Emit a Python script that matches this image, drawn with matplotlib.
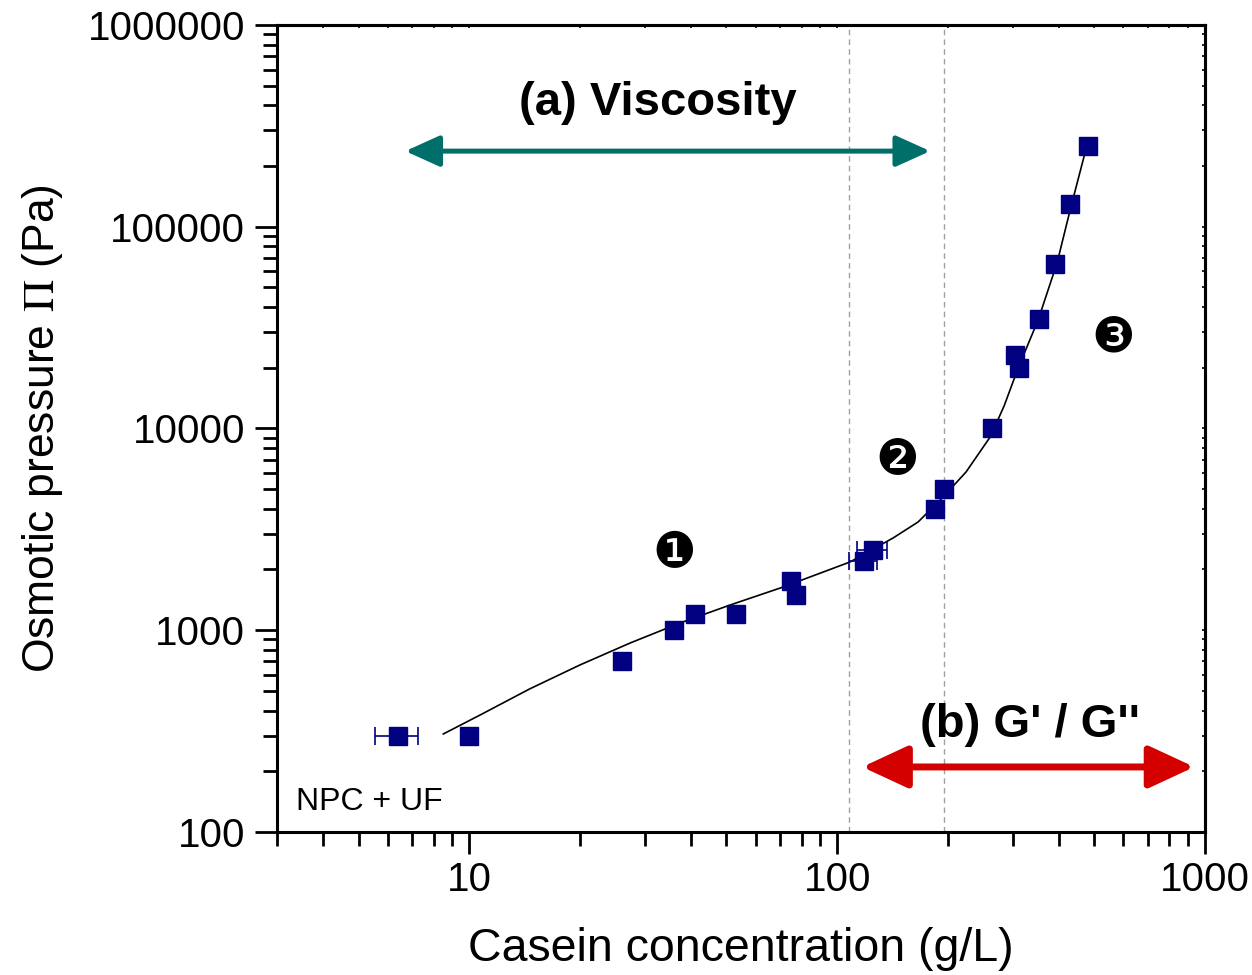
import matplotlib
matplotlib.use("Agg")
import matplotlib.pyplot as plt
from matplotlib.ticker import LogLocator, NullFormatter, FixedLocator, FixedFormatter

plt.rcParams['font.family'] = ['Liberation Sans', 'DejaVu Sans']
plt.rcParams['mathtext.fontset'] = 'stix'

# measured points (casein g/L, osmotic pressure Pa)
conc = [10, 26, 36, 41, 53, 75, 77.5, 184, 195, 264, 305, 313, 354, 391, 430, 481]
pressure = [300, 700, 1000, 1200, 1200, 1750, 1500, 4000, 5000, 10000, 23000, 20000, 35000, 65000, 130000, 250000]

# points with horizontal error bars
conc_err = [6.4, 118, 125]
pressure_err = [300, 2200, 2500]
xerr = [0.85, 10, 12]

# fitted curve
fit_x = [8.5, 10.7, 14.6, 20.0, 27.4, 37.4, 51.2, 71.3, 108.4, 141.9, 166, 194, 224, 260.6, 284.3,
         310.5, 351.8, 396, 429.8, 477.7]
fit_y = [306, 380, 512, 673, 865, 1086, 1334, 1637, 2179, 2865, 3441, 4570, 6083, 9078, 12930,
         19950, 34500, 66100, 121000, 254000]

# domain limits
limits = [108, 195]
viscosity_arrow = (6.7, 179, 237000)
modulus_arrow = (117, 935, 210)

navy = '#000080'
teal = '#006f6a'
red = '#d40000'


def main():
    fig = plt.figure(figsize=(12.52, 9.75), dpi=100)
    ax = fig.add_axes([0.2212, 0.1467, 0.7413, 0.8277])
    ax.set_xscale('log')
    ax.set_yscale('log')
    ax.set_xlim(3, 1000)
    ax.set_ylim(100, 1000000)

    for xv in limits:
        ax.axvline(xv, color='#a0a0a0', lw=1.0, ls=(0, (4, 3)), zorder=1)

    ax.plot(fit_x, fit_y, color='black', lw=1.2, zorder=2)
    ax.errorbar(conc_err, pressure_err, xerr=xerr, fmt='s', color=navy, ms=13,
                ecolor=navy, elinewidth=1.2, capsize=6.5, capthick=1.2, zorder=3)
    ax.plot(conc, pressure, 's', color=navy, ms=13, zorder=4)

    # arrows
    x0, x1, yv = viscosity_arrow
    ax.annotate('', xy=(x1, yv), xytext=(x0, yv),
                arrowprops=dict(arrowstyle='<|-|>,head_length=21,head_width=9.5',
                                mutation_scale=1, lw=3.6, color=teal, shrinkA=0, shrinkB=0))
    x0, x1, yv = modulus_arrow
    ax.annotate('', xy=(x1, yv), xytext=(x0, yv),
                arrowprops=dict(arrowstyle='<|-|>,head_length=28,head_width=13',
                                mutation_scale=1, lw=5, color=red, shrinkA=0, shrinkB=0))

    ax.text(0.41, 0.903, '(a) Viscosity', transform=ax.transAxes, ha='center', va='center',
            fontsize=34, fontweight='bold')
    ax.text(0.811, 0.132, "(b) G' / G''", transform=ax.transAxes, ha='center', va='center',
            fontsize=34, fontweight='bold')
    ax.text(0.021, 0.037, 'NPC + UF', transform=ax.transAxes, ha='left', va='center', fontsize=23)

    circ = dict(ha='center', va='center', fontsize=35, family=['DejaVu Sans'])
    ax.text(0.428, 0.345, '\u2776', transform=ax.transAxes, **circ)
    ax.text(0.668, 0.462, '\u2777', transform=ax.transAxes, **circ)
    ax.text(0.901, 0.613, '\u2778', transform=ax.transAxes, **circ)

    ax.xaxis.set_major_locator(FixedLocator([10, 100, 1000]))
    ax.xaxis.set_major_formatter(FixedFormatter(['10', '100', '1000']))
    ax.xaxis.set_minor_locator(LogLocator(base=10, subs=(2, 3, 4, 5, 6, 7, 8, 9), numticks=20))
    ax.xaxis.set_minor_formatter(NullFormatter())
    yt = [100, 1000, 10000, 100000, 1000000]
    ax.yaxis.set_major_locator(FixedLocator(yt))
    ax.yaxis.set_major_formatter(FixedFormatter([str(v) for v in yt]))
    ax.yaxis.set_minor_locator(LogLocator(base=10, subs=(2, 3, 4, 5, 6, 7, 8, 9), numticks=20))
    ax.yaxis.set_minor_formatter(NullFormatter())

    ax.tick_params(which='major', direction='out', length=16, width=2, labelsize=29, pad=7)
    ax.tick_params(which='minor', direction='out', length=10, width=2)
    ax.tick_params(axis='x', which='major', pad=5)
    for s in ax.spines.values():
        s.set_linewidth(2.2)

    # top/right get small inward ticks
    axt = ax.secondary_xaxis('top')
    axt.xaxis.set_major_locator(FixedLocator([10, 100, 1000]))
    axt.xaxis.set_minor_locator(LogLocator(base=10, subs=(2, 3, 4, 5, 6, 7, 8, 9), numticks=20))
    axt.tick_params(which='both', direction='in', length=2.5, width=1.2, labeltop=False)
    axt.spines['top'].set_linewidth(2.2)
    axr = ax.secondary_yaxis('right')
    axr.yaxis.set_major_locator(FixedLocator(yt))
    axr.yaxis.set_minor_locator(LogLocator(base=10, subs=(2, 3, 4, 5, 6, 7, 8, 9), numticks=20))
    axr.tick_params(which='both', direction='in', length=2.5, width=1.2, labelright=False)
    axr.spines['right'].set_linewidth(2.2)

    ax.set_xlabel('Casein concentration (g/L)', fontsize=33.5, labelpad=20)
    ax.set_ylabel(r'Osmotic pressure $\Pi$ (Pa)', fontsize=32, labelpad=16)

    fig.savefig('out.png', dpi=100)


if __name__ == '__main__':
    main()
